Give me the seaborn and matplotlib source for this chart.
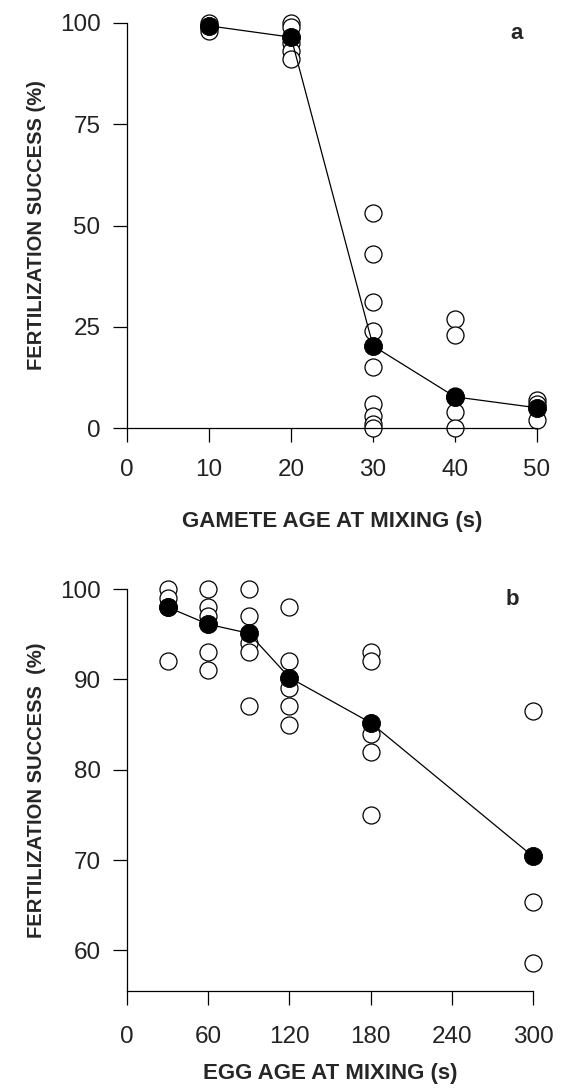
import matplotlib
matplotlib.use("Agg")
import matplotlib.pyplot as plt
import seaborn as sns
import pandas as pd

# ---- Panel a data: gamete age at mixing (s) ----
a_open_x = [10, 10, 10,
            20, 20, 20, 20, 20,
            30, 30, 30, 30, 30, 30, 30, 30, 30,
            40, 40, 40, 40, 40,
            50, 50, 50]
a_open_y = [100, 99, 98,
            100, 99, 95, 93, 91,
            53, 43, 31, 24, 15, 6, 3, 1, 0,
            27, 23, 8, 4, 0,
            7, 6, 2]
a_mean_x = [10, 20, 30, 40, 50]
a_mean_y = [99.3, 96.5, 20.3, 7.7, 5.0]
a_xticks = [0, 10, 20, 30, 40, 50]
a_yticks = [0, 25, 50, 75, 100]

# ---- Panel b data: egg age at mixing (s) ----
b_open_x = [30, 30, 30, 30,
            60, 60, 60, 60, 60,
            90, 90, 90, 90, 90,
            120, 120, 120, 120, 120,
            180, 180, 180, 180, 180,
            300, 300, 300]
b_open_y = [100, 99, 98, 92,
            100, 98, 97, 93, 91,
            100, 97, 94, 93, 87,
            98, 92, 89, 87, 85,
            93, 92, 84, 82, 75,
            86.5, 65.4, 58.6]
b_mean_x = [30, 60, 90, 120, 180, 300]
b_mean_y = [98.0, 96.1, 95.1, 90.2, 85.2, 70.4]
b_xticks = [0, 60, 120, 180, 240, 300]
b_yticks = [60, 70, 80, 90, 100]

sns.set_style("ticks")
plt.rcParams["font.family"] = ["Liberation Sans", "DejaVu Sans"]

fig = plt.figure(figsize=(5.66, 10.90), dpi=100)
ax_a = fig.add_axes([0.2244, 0.6073, 0.7244, 0.3716])
ax_b = fig.add_axes([0.2244, 0.0908, 0.7173, 0.3688])

def draw(ax, ox, oy, mx, my, xlim, ylim, xt, yt, xlabel, ylabel, letter,
         xpad, xlabpad):
    dfo = pd.DataFrame({"x": ox, "y": oy})
    dfm = pd.DataFrame({"x": mx, "y": my})
    sns.scatterplot(data=dfo, x="x", y="y", ax=ax, marker="o", s=150,
                    facecolor="white", edgecolor="black", linewidth=0.9,
                    zorder=2, clip_on=False)
    sns.lineplot(data=dfm, x="x", y="y", ax=ax, color="black", linewidth=0.9,
                 zorder=3, estimator=None, sort=False)
    sns.scatterplot(data=dfm, x="x", y="y", ax=ax, marker="o", s=170,
                    color="black", edgecolor="black", linewidth=0.6,
                    zorder=4, clip_on=False)
    ax.set_xlim(*xlim)
    ax.set_ylim(*ylim)
    ax.set_xticks(xt)
    ax.set_yticks(yt)
    ax.tick_params(axis="both", direction="out", length=10, width=0.9,
                   labelsize=17.5, color="black", labelcolor="#222222")
    ax.tick_params(axis="x", pad=xpad)
    ax.tick_params(axis="y", pad=9)
    for s in ["top", "right"]:
        ax.spines[s].set_visible(False)
    for s in ["left", "bottom"]:
        ax.spines[s].set_linewidth(0.9)
        ax.spines[s].set_color("black")
    ax.set_xlabel(xlabel, fontsize=16, fontweight="bold", labelpad=xlabpad)
    ax.set_ylabel(ylabel, fontsize=14.5, fontweight="bold", labelpad=10)
    ax.text(0.95, 0.975, letter, transform=ax.transAxes, fontsize=16,
            fontweight="bold", ha="center", va="center")

draw(ax_a, a_open_x, a_open_y, a_mean_x, a_mean_y, (0, 50), (0, 100),
     a_xticks, a_yticks, "GAMETE AGE AT MIXING (s)",
     "FERTILIZATION SUCCESS (%)", "a", 12, 22)
draw(ax_b, b_open_x, b_open_y, b_mean_x, b_mean_y, (0, 300), (55.5, 100),
     b_xticks, b_yticks, "EGG AGE AT MIXING (s)",
     "FERTILIZATION SUCCESS  (%)", "b", 15, 11)

fig.savefig("out.png", dpi=100, facecolor="white")
